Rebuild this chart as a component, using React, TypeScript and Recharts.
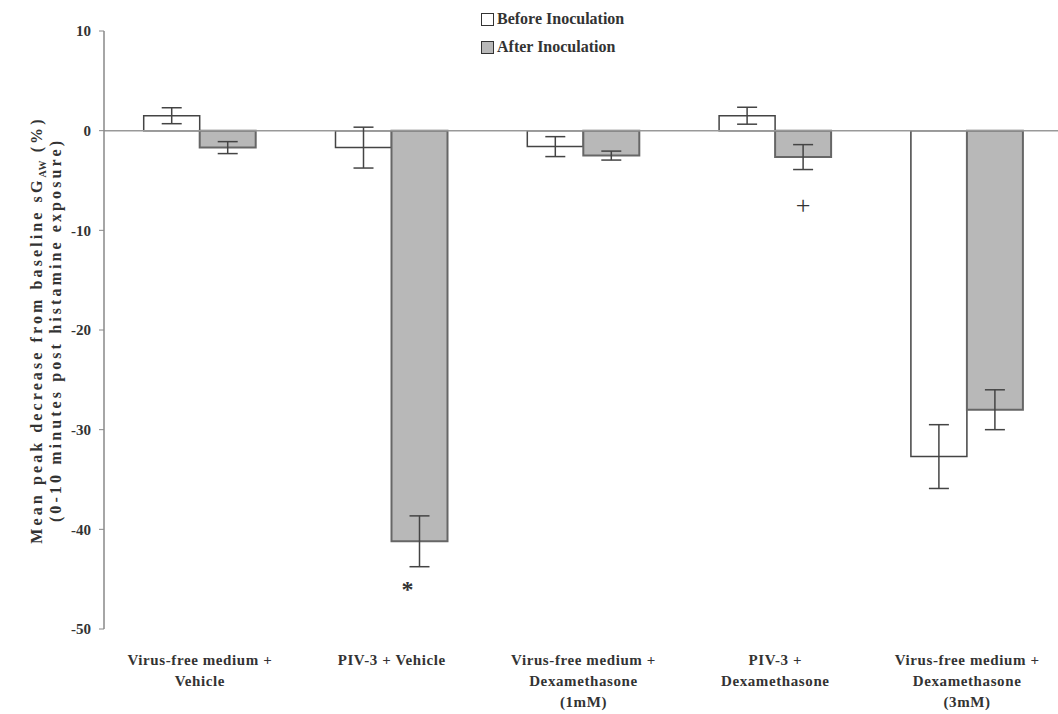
import {
  ComposedChart,
  Bar,
  XAxis,
  YAxis,
  ErrorBar,
  ReferenceLine,
  LabelList,
} from "recharts";

const categories = [
  "Virus-free medium +\nVehicle",
  "PIV-3 + Vehicle",
  "Virus-free medium +\nDexamethasone\n(1mM)",
  "PIV-3 +\nDexamethasone",
  "Virus-free medium +\nDexamethasone\n(3mM)",
];
const beforeValues = [1.5, -1.7, -1.6, 1.5, -32.7];
const beforeErrors = [0.8, 2.05, 1.0, 0.85, 3.2];
const afterValues = [-1.7, -41.2, -2.5, -2.65, -28.0];
const afterErrors = [0.6, 2.55, 0.45, 1.25, 2.0];
const markers = ["", "*", "", "+", ""];
const yTicks = [-50, -40, -30, -20, -10, 0, 10];
const seriesNames = ["Before Inoculation", "After Inoculation"];

const data = categories.map((name, i) => ({
  name,
  before: beforeValues[i],
  beforeErr: beforeErrors[i],
  after: afterValues[i],
  afterErr: afterErrors[i],
  mark: markers[i],
}));

const FONT = "'Liberation Serif', 'Times New Roman', serif";
const INK = "#444";
const FILLS = ["#ffffff", "#b8b8b8"];

function CategoryTick({ x, y, payload }: any) {
  const lines = String(payload.value).split("\n");
  return (
    <text
      x={x}
      y={y}
      textAnchor="middle"
      fontFamily={FONT}
      fontWeight="bold"
      fontSize={15}
      letterSpacing={0.6}
      fill="#333"
    >
      {lines.map((line, i) => (
        <tspan key={i} x={x} dy={i === 0 ? 36 : 21}>
          {line}
        </tspan>
      ))}
    </text>
  );
}

// rotated two-line axis title, sG with AW subscript
function AxisTitle({ viewBox }: any) {
  const cy = viewBox.y + viewBox.height / 2;
  return (
    <g fontFamily={FONT} fontWeight="bold" fontSize={16} fill="#333" letterSpacing={3.1}>
      <text
        x={0}
        y={0}
        textAnchor="middle"
        transform={`translate(42, ${cy}) rotate(-90)`}
      >
        Mean peak decrease from baseline sG
        <tspan dy={4} fontSize={10} letterSpacing={1}>
          AW
        </tspan>
        <tspan dy={-4}> (%)</tspan>
      </text>
      <text
        x={0}
        y={0}
        textAnchor="middle"
        transform={`translate(61, ${cy}) rotate(-90)`}
      >
        (0-10 minutes post histamine exposure)
      </text>
    </g>
  );
}

function LegendBox() {
  return (
    <div
      style={{
        position: "absolute",
        left: 481,
        top: 5,
        fontFamily: FONT,
        fontWeight: "bold",
        fontSize: 16,
        color: "#333",
      }}
    >
      {seriesNames.map((s, i) => (
        <div key={s} style={{ display: "flex", alignItems: "center", height: 28 }}>
          <span
            style={{
              display: "inline-block",
              width: 11,
              height: 11,
              border: "1.5px solid #333",
              background: FILLS[i],
              marginRight: 3,
            }}
          />
          {s}
        </div>
      ))}
    </div>
  );
}

function MarkLabel({ x, y, width, height, value }: any) {
  if (!value) return null;
  const bottom = Math.max(y, y + height);
  return (
    <text
      x={x + width / 2 + (value === "*" ? -12 : 0)}
      y={bottom + 48}
      textAnchor="middle"
      dominantBaseline="central"
      fontFamily={FONT}
      fontWeight={value === "*" ? "bold" : "normal"}
      fontSize={value === "*" ? 24 : 26}
      fill="#333"
    >
      {value}
    </text>
  );
}

export default function App() {
  return (
    <div
      style={{
        position: "absolute",
        left: 0,
        top: 0,
        width: 1058,
        height: 714,
        overflow: "hidden",
        background: "#fff",
      }}
    >
      <ComposedChart
        width={1063}
        height={714}
        data={data}
        margin={{ top: 31, right: 0, bottom: 5, left: 0 }}
        barCategoryGap="20.7%"
        barGap={0}
      >
        <XAxis
          dataKey="name"
          height={80}
          axisLine={false}
          tickLine={false}
          tickSize={0}
          tickMargin={0}
          interval={0}
          tick={<CategoryTick />}
        />
        <YAxis
          width={104}
          domain={[-50, 10]}
          ticks={yTicks}
          interval={0}
          axisLine={{ stroke: "#888", strokeWidth: 1.5 }}
          tickLine={{ stroke: "#888" }}
          tickSize={5}
          tickMargin={8}
          tick={{ fontFamily: FONT, fontWeight: "bold", fontSize: 15, fill: "#333" }}
          label={<AxisTitle />}
        />
        <ReferenceLine y={0} stroke="#999" strokeWidth={1.5} />
        <Bar
          dataKey="before"
          name={seriesNames[0]}
          fill={FILLS[0]}
          stroke={INK}
          strokeWidth={1.5}
          isAnimationActive={false}
        >
          <ErrorBar dataKey="beforeErr" width={10} stroke={INK} strokeWidth={1.5} />
        </Bar>
        <Bar
          dataKey="after"
          name={seriesNames[1]}
          fill={FILLS[1]}
          stroke="#666"
          strokeWidth={2}
          isAnimationActive={false}
        >
          <ErrorBar dataKey="afterErr" width={10} stroke={INK} strokeWidth={1.5} />
          <LabelList dataKey="mark" content={<MarkLabel />} />
        </Bar>
      </ComposedChart>
      <LegendBox />
    </div>
  );
}
